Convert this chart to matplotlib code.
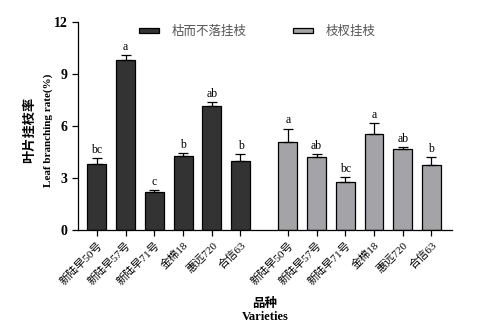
import numpy as np
import matplotlib
matplotlib.use('Agg')
from matplotlib import pyplot as plt

plt.rcParams['font.family'] = ['Liberation Serif', 'Noto Sans CJK SC']

varieties = ['新陆早50号', '新陆早57号', '新陆早71号', '金棉18', '惠远720', '合信63']
series_names = ['枯而不落挂枝', '枝杈挂枝']

dead_mean = [3.77, 9.77, 2.16, 4.25, 7.14, 3.95]
dead_err = [0.35, 0.30, 0.13, 0.16, 0.25, 0.42]
dead_letters = ['bc', 'a', 'c', 'b', 'ab', 'b']

fork_mean = [5.04, 4.18, 2.73, 5.50, 4.64, 3.72]
fork_err = [0.80, 0.17, 0.29, 0.67, 0.11, 0.47]
fork_letters = ['a', 'ab', 'bc', 'a', 'ab', 'b']

colors = ['#333333', '#a3a3a8']

fig = plt.figure(figsize=(4.81, 3.31), dpi=100)
ax = fig.add_axes([0.162, 0.306, 0.778, 0.628])

x1 = np.arange(len(varieties))
x2 = x1 + 6.65
w = 0.66

for xs, means, errs, letters, col, name in [
        (x1, dead_mean, dead_err, dead_letters, colors[0], series_names[0]),
        (x2, fork_mean, fork_err, fork_letters, colors[1], series_names[1])]:
    ax.bar(xs, means, width=w, color=col, edgecolor='black', linewidth=0.9, label=name)
    ax.errorbar(xs, means, yerr=[np.zeros(len(errs)), errs], fmt='none',
                ecolor='black', elinewidth=0.9, capsize=3.5, capthick=0.9)
    for x, m, e, t in zip(xs, means, errs, letters):
        ax.text(x, m + e + 0.12, t, ha='center', va='bottom', fontsize=8.5)

ax.set_xlim(-0.66, 12.37)
ax.set_ylim(0, 12)
ax.set_yticks([0, 3, 6, 9, 12])
ax.tick_params(axis='y', labelsize=10, length=4, width=0.9)
for lab in ax.get_yticklabels():
    lab.set_fontweight('bold')
ax.set_xticks(np.concatenate([x1, x2]))
ax.set_xticklabels(varieties * 2, rotation=45, ha='right', rotation_mode='anchor',
                   fontsize=8)
ax.tick_params(axis='x', length=4, width=0.9)

for s in ['top', 'right']:
    ax.spines[s].set_visible(False)
for s in ['left', 'bottom']:
    ax.spines[s].set_linewidth(0.9)

# y label: two lines drawn separately
ax.text(-0.128, 0.48, '叶片挂枝率', transform=ax.transAxes, rotation=90,
        ha='center', va='center', fontsize=9.5, fontweight='bold')
ax.text(-0.08, 0.48, 'Leaf branching rate(%)', transform=ax.transAxes, rotation=90,
        ha='center', va='center', fontsize=8, fontweight='bold')

ax.set_xlabel('品种\nVarieties', fontsize=9, fontweight='bold', linespacing=1.05)
ax.xaxis.set_label_coords(0.5, -0.33)

leg = ax.legend(loc='upper center', bbox_to_anchor=(0.48, 1.035), ncol=2, frameon=False,
                fontsize=9, handlelength=1.6, handleheight=0.3, handletextpad=1.0,
                columnspacing=3.7)
for t in leg.get_texts():
    t.set_color('#555555')

fig.savefig('out.png', dpi=100)
